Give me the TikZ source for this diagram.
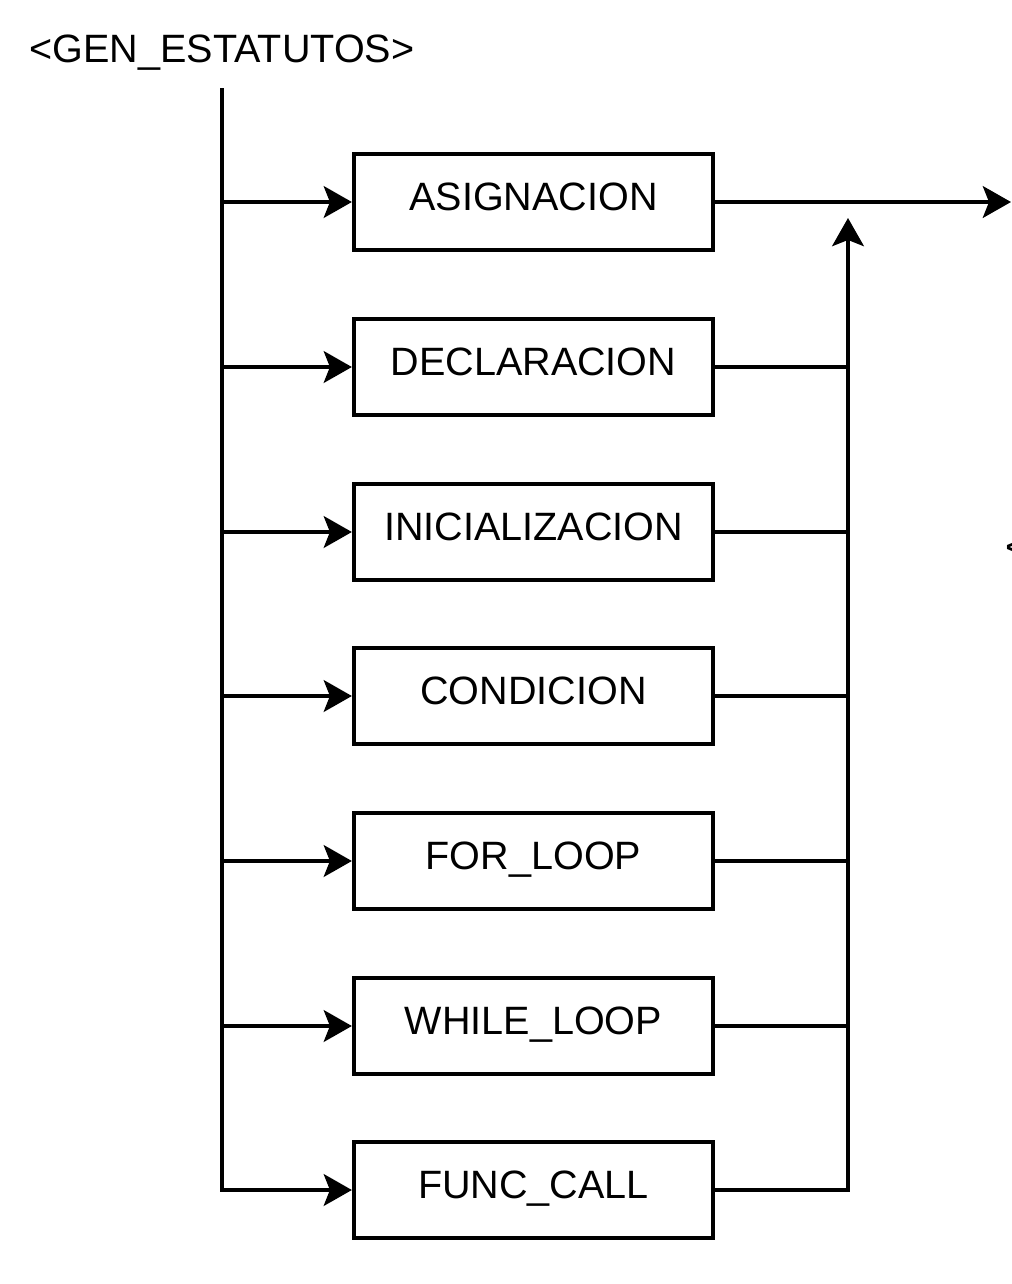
\documentclass[tikz,border=0pt]{standalone}
\usepackage{fontspec}
\setmainfont{Liberation Sans}
\usetikzlibrary{arrows.meta}
\begin{document}
\begin{tikzpicture}[x=0.2mm,y=-0.2mm,line width=2.4pt,
  blok/.style={draw,rectangle,minimum width=7.18cm,minimum height=1.92cm,
    text height=0.56cm,text depth=0.24cm,inner sep=0pt},
  tip/.style={-{Stealth[length=16pt,width=18pt,inset=3.5pt]}},
  every node/.style={font=\fontsize{22.5}{27}\selectfont}]
\useasboundingbox (0,0) rectangle (1012,1284);

\node[anchor=base] (title) at (222,62) {<GEN\_ESTATUTOS>};
\node[anchor=base west,inner sep=0pt] (cut) at (1003,560) {<};
\coordinate (top) at (222,88);
\coordinate (bus) at (848,218);
\coordinate (exit) at (1011,202);

\foreach \name/\y [count=\i] in {ASIGNACION/202,DECLARACION/367,INICIALIZACION/532,
  CONDICION/696,FOR\_LOOP/861,WHILE\_LOOP/1026,FUNC\_CALL/1190}
  \node[blok] (b\i) at (533.5,\y) {\name};

\path[draw,tip] (top) -- (top |- b7.west) -- (b7.west);
\foreach \i in {1,...,6}
  \path[draw,tip] (top |- b\i.west) -- (b\i.west);
\foreach \i in {2,...,6}
  \path[draw,-] (b\i.east) -- (bus |- b\i.east);
\path[draw,tip] (b7.east) -- (bus |- b7.east) -- (bus);
\path[draw,tip] (b1.east) -- (exit);
\end{tikzpicture}
\end{document}
